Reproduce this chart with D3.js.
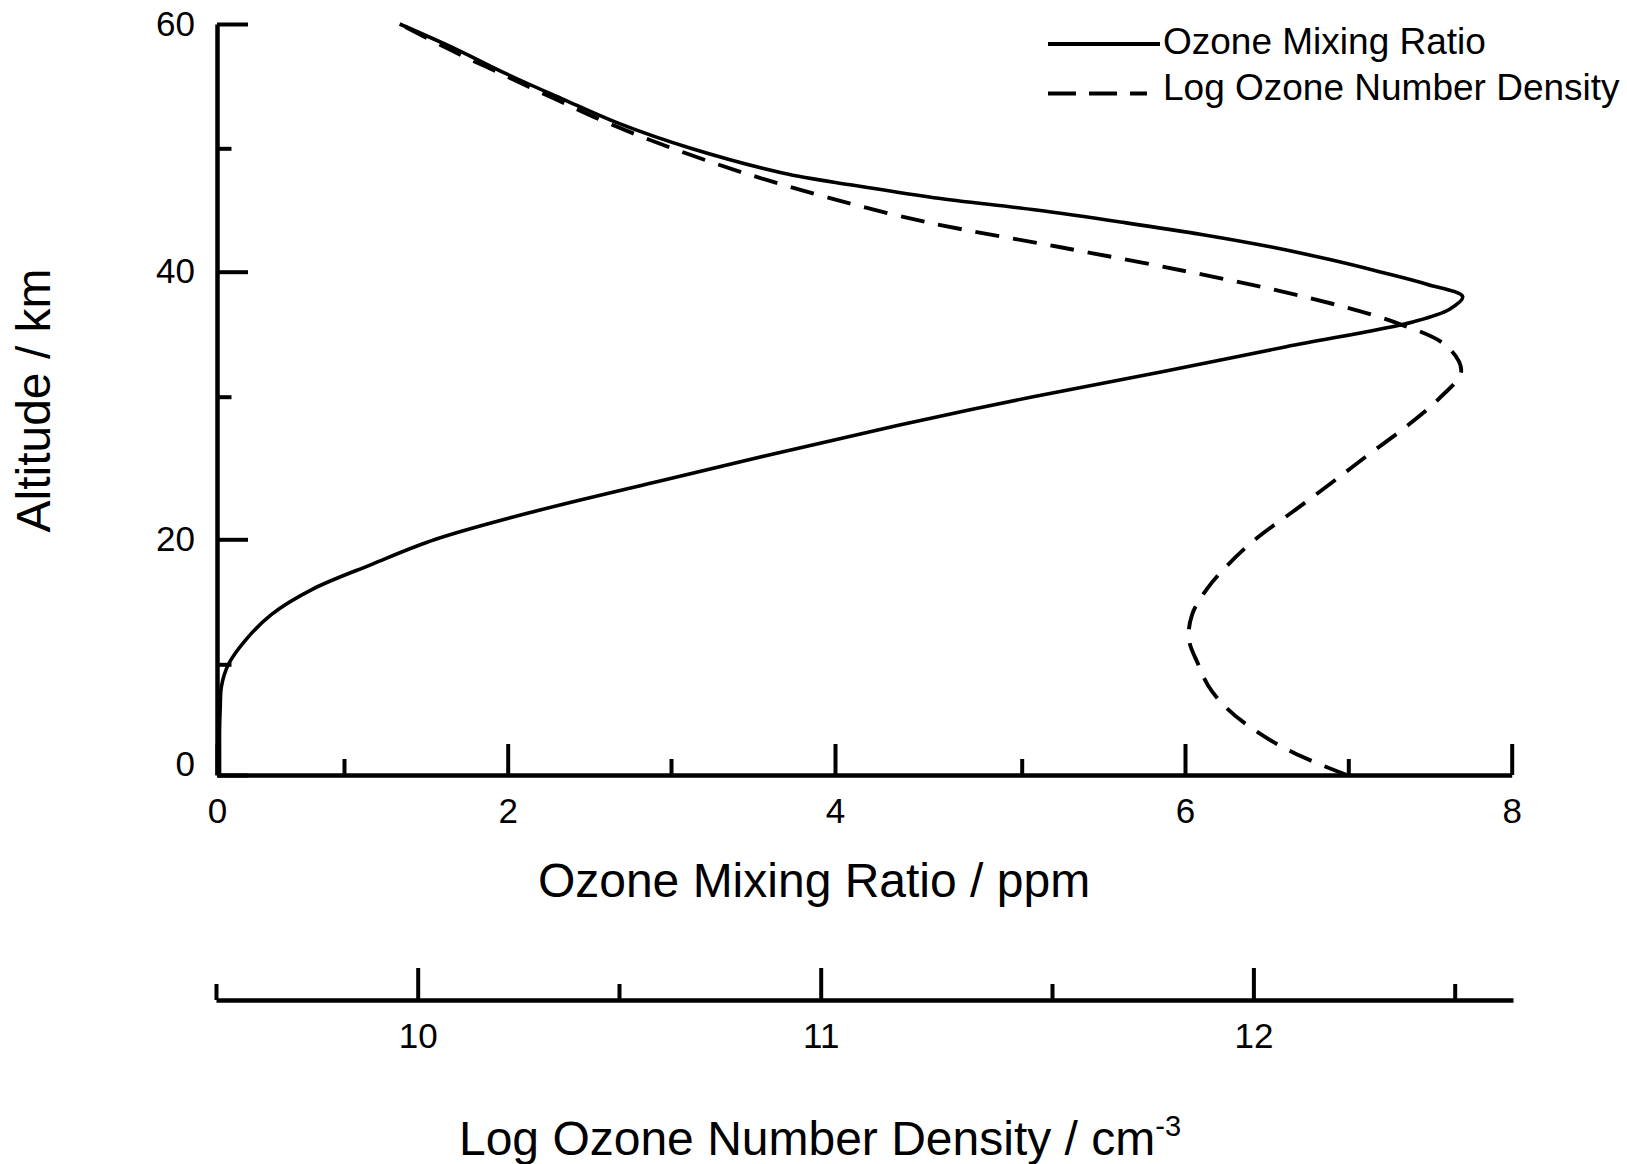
<!DOCTYPE html>
<html>
<head>
<meta charset="utf-8">
<script src="https://cdn.jsdelivr.net/npm/d3@7"></script>
<style>
  html, body { margin: 0; padding: 0; background: #ffffff; }
  svg { display: block; }
</style>
</head>
<body>
<svg id="chart" width="1627" height="1164"></svg>
<script>
// ---------------- data ----------------
const altitudeTicks  = [0, 10, 20, 30, 40, 50, 60];
const altitudeLabels = [0, 20, 40, 60];
const altitudeMinor  = [10, 30, 50];
const ppmTicks       = [0, 1, 2, 3, 4, 5, 6, 7, 8];
const ppmLabels      = [0, 2, 4, 6, 8];
const ppmMinor       = [1, 3, 5, 7];
const logTicks       = [9.5, 10, 10.5, 11, 11.5, 12, 12.5];
const logLabels      = [10, 11, 12];
const logMinor       = [9.5, 10.5, 11.5, 12.5];
const seriesNames    = ["Ozone Mixing Ratio", "Log Ozone Number Density"];

// Ozone mixing ratio (ppm) vs altitude (km)
const mixingAltitude = [0, 2, 4, 6, 8, 10, 12, 14, 16, 18, 20, 22, 24, 26, 28, 30, 32, 34, 36, 37, 38, 39, 40,
                        41, 42, 43, 44, 45, 46, 47, 48, 50, 52, 54, 56, 58, 60];
const mixingRatio    = [0.02, 0.02, 0.02, 0.025, 0.035, 0.09, 0.23, 0.43, 0.75, 1.17, 1.56, 2.18, 2.90, 3.63,
                        4.34, 5.07, 5.86, 6.62, 7.40, 7.62, 7.70, 7.48, 7.19,
                        6.88, 6.53, 6.11, 5.62, 5.09, 4.53, 4.10, 3.68, 3.12, 2.68, 2.33, 1.99, 1.68, 1.34];

// Log ozone number density (cm^-3) vs altitude (km)
const densityAltitude = [0, 2, 4, 6, 8, 10, 12, 14, 16, 18, 20, 22, 24, 26, 28, 30,
                         32, 34, 36, 38, 40, 42, 44, 46, 48, 50, 52, 54, 56, 58, 60];
const logDensity      = [12.232, 12.10, 12.005, 11.935, 11.889, 11.863, 11.84, 11.848, 11.884, 11.938,
                         12.005, 12.101, 12.196, 12.289, 12.384, 12.466, 12.516, 12.482, 12.347, 12.126,
                         11.838, 11.518, 11.231, 11.016, 10.81, 10.632, 10.475, 10.339, 10.207, 10.076, 9.955];

// ---------------- drawing ----------------
const FONT = "'Liberation Sans', Arial, Helvetica, sans-serif";
const svg = d3.select("#chart");

// hand-drawn axes: tick spacing is not perfectly uniform, so polylinear scales
const y = d3.scaleLinear().domain(altitudeTicks)
  .range([775, 664.3, 539.3, 396.7, 271.7, 148.3, 24]);
const x = d3.scaleLinear().domain(ppmTicks)
  .range([217, 344, 507.7, 671, 835, 1021.7, 1185, 1348.3, 1511.7]);
const xLog = d3.scaleLinear().domain(logTicks.concat([12.644]))
  .range([216, 417.7, 619, 820.7, 1052, 1253.4, 1454.7, 1513]);

const fmt = d3.format("d");

function styleAxis(g, size) {
  g.attr("font-family", FONT).attr("font-size", size);
  g.select(".domain").attr("stroke", "#000").attr("stroke-width", 4.5);
  g.selectAll(".tick line").attr("stroke", "#000").attr("stroke-width", 4);
  g.selectAll(".tick text").attr("fill", "#000");
}
function minorAxis(axis, transform) {
  const g = svg.append("g").attr("transform", transform).call(axis.tickSizeOuter(0).tickFormat(""));
  g.select(".domain").remove();
  g.selectAll(".tick line").attr("stroke", "#000").attr("stroke-width", 4);
}

// Y axis (altitude)
const gy = svg.append("g").attr("transform", "translate(217,0)")
  .call(d3.axisLeft(y).tickValues(altitudeLabels).tickFormat(fmt).tickSize(-31).tickSizeOuter(0).tickPadding(22));
styleAxis(gy, 35);
gy.selectAll(".tick text").filter(d => d === 0).attr("dy", "0em");
minorAxis(d3.axisLeft(y).tickValues(altitudeMinor).tickSize(-14.5), "translate(217,0)");

// X axis (mixing ratio)
const gx = svg.append("g").attr("transform", "translate(0,775)")
  .call(d3.axisBottom(x).tickValues(ppmLabels).tickFormat(fmt).tickSize(-31).tickSizeOuter(0).tickPadding(23));
styleAxis(gx, 35);
minorAxis(d3.axisBottom(x).tickValues(ppmMinor).tickSize(-16), "translate(0,775)");

// Second X axis (log number density)
const gl = svg.append("g").attr("transform", "translate(0,1000)")
  .call(d3.axisBottom(xLog).tickValues(logLabels).tickFormat(fmt).tickSize(-32).tickSizeOuter(0).tickPadding(23));
styleAxis(gl, 35);
minorAxis(d3.axisBottom(xLog).tickValues(logMinor).tickSize(-16), "translate(0,1000)");

// Curves
const mixData = d3.zip(mixingAltitude, mixingRatio).map(([a, v]) => ({a, v}));
const denData = d3.zip(densityAltitude, logDensity).map(([a, v]) => ({a, v}));

svg.append("path").datum(mixData)
  .attr("fill", "none").attr("stroke", "#000").attr("stroke-width", 3.6)
  .attr("d", d3.line().x(d => x(d.v)).y(d => y(d.a)).curve(d3.curveCatmullRom.alpha(0.5)));

svg.append("path").datum(denData)
  .attr("fill", "none").attr("stroke", "#000").attr("stroke-width", 3.9)
  .attr("stroke-dasharray", "24,14")
  .attr("d", d3.line().x(d => xLog(d.v)).y(d => y(d.a)).curve(d3.curveCatmullRom.alpha(0.5)));

// Legend
const legend = svg.append("g");
legend.append("line").attr("x1", 1048).attr("x2", 1160).attr("y1", 44).attr("y2", 44)
  .attr("stroke", "#000").attr("stroke-width", 3.8);
legend.append("line").attr("x1", 1048).attr("x2", 1147).attr("y1", 93.5).attr("y2", 93.5)
  .attr("stroke", "#000").attr("stroke-width", 3.8).attr("stroke-dasharray", "28,13");
legend.selectAll("text.leg").data(seriesNames).enter().append("text")
  .attr("class", "leg")
  .attr("x", 1163).attr("y", (d, i) => i === 0 ? 54 : 100)
  .attr("font-family", FONT).attr("font-size", 37).attr("fill", "#000")
  .text(d => d);

// Axis titles
svg.append("text").attr("x", 814).attr("y", 897).attr("text-anchor", "middle")
  .attr("font-family", FONT).attr("font-size", 48).attr("fill", "#000")
  .text("Ozone Mixing Ratio / ppm");

svg.append("text").attr("transform", "translate(49.5,400.5) rotate(-90)").attr("text-anchor", "middle")
  .attr("font-family", FONT).attr("font-size", 48).attr("fill", "#000")
  .text("Altitude / km");

const bt = svg.append("text").attr("x", 820).attr("y", 1155).attr("text-anchor", "middle")
  .attr("font-family", FONT).attr("font-size", 48).attr("fill", "#000");
bt.append("tspan").text("Log Ozone Number Density / cm");
bt.append("tspan").attr("font-size", 29).attr("dy", -19).text("-3");
</script>
</body>
</html>
